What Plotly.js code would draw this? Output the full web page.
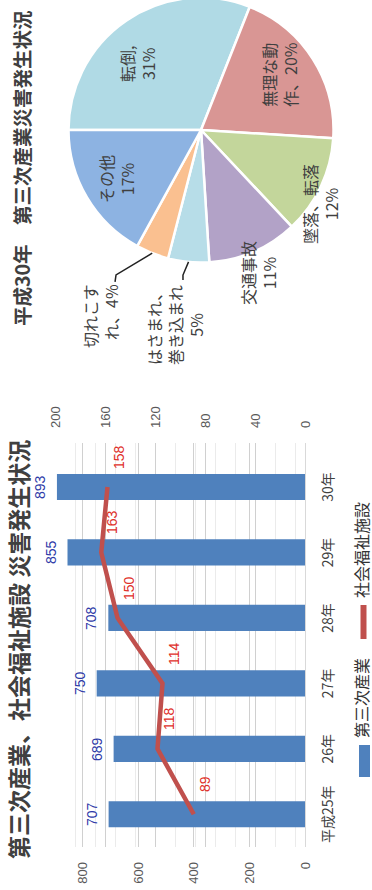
<!DOCTYPE html>
<html>
<head>
<meta charset="utf-8">
<script src="https://cdn.plot.ly/plotly-3.0.1.min.js"></script>
<style>
  html, body { margin: 0; padding: 0; background: #ffffff; overflow: hidden; width: 372px; height: 890px; }
  #chart { position: absolute; left: 0; top: 0; width: 900px; height: 372px;
           transform-origin: 0 0; transform: rotate(-90deg) translate(-890px, 0); }
</style>
</head>
<body>
<div id="chart"></div>
<script>
// ---- data ----
const categories = ['平成25年', '26年', '27年', '28年', '29年', '30年'];
const tertiaryIndustry = [707, 689, 750, 708, 855, 893];
const socialWelfare = [89, 118, 114, 150, 163, 158];

const pieNames = ['転倒', '無理な動作', '墜落、転落', '交通事故', 'はさまれ、巻き込まれ', '切れ、こすれ', 'その他'];
const piePercent = [31, 20, 12, 11, 5, 4, 17];
const pieDisplay = ['転倒,<br>', '無理な動<br>作、', '墜落、転落<br>', '交通事故<br>', 'はさまれ、<br>巻き込まれ<br>', '切れこす<br>れ、', 'その他<br>'];

// ---- style ----
const W = 900, H = 372;
const X = u => u / W;
const Y = v => 1 - v / H;
const JP = '"Noto Sans CJK JP", "Noto Sans", sans-serif';
const NUM = '"Liberation Sans", Arial, "Noto Sans CJK JP", sans-serif';
const pieColors = ['#b0dae5', '#d99694', '#c3d69b', '#b2a2c7', '#b7dde8', '#fac090', '#8db3e2'];
// label placement: radius factor, angle offset from slice middle (deg), alignment
const pieLabelPlace = [
  {f: 0.69, d: -9.5, xa: 'center', al: 'center'},
  {f: 0.73, d: -2.9, xa: 'center', al: 'center'},
  {f: 1.06, d: 6.8, xa: 'center', al: 'center'},
  {f: 1.16, d: 1.6, xa: 'center', al: 'center'},
  {f: 1.485, d: 2.2, xa: 'center', al: 'center', leader: [[50, 8], [45, 8]]},
  {f: 1.377, d: 12, xa: 'right', al: 'right', leader: [[7, 16], [0, 15]]},
  {f: 0.74, d: 0.6, xa: 'center', al: 'center'}
];
const pieCx = 760, pieCy = 201, pieR = 132.5;

const traces = [
  {
    type: 'bar', x: categories, y: tertiaryIndustry, name: '第三次産業',
    marker: {color: '#4f81bd'}, width: 0.4, hoverinfo: 'none'
  },
  {
    type: 'scatter', mode: 'lines', x: categories, y: socialWelfare, yaxis: 'y2', name: '社会福祉施設',
    line: {color: '#c0504d', width: 4.5}, hoverinfo: 'none'
  },
  {
    type: 'pie', values: piePercent, labels: pieNames, sort: false, direction: 'clockwise', rotation: 0,
    marker: {colors: pieColors, line: {color: '#ffffff', width: 2.5}},
    textinfo: 'none', hoverinfo: 'none', showlegend: false,
    domain: {x: [X(pieCx - pieR), X(pieCx + pieR)], y: [Y(pieCy + pieR), Y(pieCy - pieR)]}
  }
];

const annotations = [];
const shapes = [];

// bar value labels
categories.forEach((c, i) => {
  annotations.push({
    x: c, y: tertiaryIndustry[i], xref: 'x', yref: 'y', text: String(tertiaryIndustry[i]),
    showarrow: false, xanchor: 'center', yanchor: 'bottom', yshift: 7,
    font: {family: NUM, size: 14, color: '#2e3aa8'}
  });
  annotations.push({
    x: c, y: socialWelfare[i], xref: 'x', yref: 'y2', text: String(socialWelfare[i]),
    showarrow: false, xanchor: 'center', yanchor: 'middle', xshift: 30, yshift: -11,
    font: {family: NUM, size: 14, color: '#e0302a'}
  });
});

// titles
annotations.push({
  x: X(240), y: Y(18), xref: 'paper', yref: 'paper', showarrow: false, xanchor: 'center', yanchor: 'middle',
  text: '<b>第三次産業、社会福祉施設 災害発生状況</b>',
  font: {family: JP, size: 23, color: '#404040'}
});
annotations.push({
  x: X(722), y: Y(22), xref: 'paper', yref: 'paper', showarrow: false, xanchor: 'center', yanchor: 'middle',
  text: '<b>平成30年　第三次産業災害発生状況</b>',
  font: {family: JP, size: 19.5, color: '#404040'}
});

// custom legend
shapes.push({type: 'rect', xref: 'paper', yref: 'paper', x0: X(113), x1: X(145), y0: Y(370), y1: Y(359),
  fillcolor: '#4f81bd', line: {width: 0}});
shapes.push({type: 'line', xref: 'paper', yref: 'paper', x0: X(251), x1: X(285), y0: Y(363.5), y1: Y(363.5),
  line: {color: '#c0504d', width: 6}});
annotations.push({x: X(150), y: Y(361), xref: 'paper', yref: 'paper', xanchor: 'left', yanchor: 'middle', showarrow: false,
  text: '第三次産業', font: {family: JP, size: 16, color: '#333333'}});
annotations.push({x: X(290), y: Y(361), xref: 'paper', yref: 'paper', xanchor: 'left', yanchor: 'middle', showarrow: false,
  text: '社会福祉施設', font: {family: JP, size: 16, color: '#333333'}});

// pie labels
const total = piePercent.reduce((a, b) => a + b, 0);
let cum = 0;
piePercent.forEach((v, i) => {
  const mid = (cum + v / 2) / total * 360;
  cum += v;
  const p = pieLabelPlace[i];
  const a = (mid + p.d) * Math.PI / 180;
  const lu = pieCx + pieR * p.f * Math.sin(a);
  const lv = pieCy - pieR * p.f * Math.cos(a);
  annotations.push({
    x: X(lu), y: Y(lv), xref: 'paper', yref: 'paper', showarrow: false,
    xanchor: p.xa, yanchor: 'middle', align: p.al, text: pieDisplay[i] + v + '%',
    font: {family: JP, size: 16, color: '#404040'}
  });
  if (p.leader) {
    const m = mid * Math.PI / 180;
    const su = pieCx + pieR * Math.sin(m), sv = pieCy - pieR * Math.cos(m);
    const pts = [[su, sv]].concat(p.leader.map(o => [lu + o[0], lv + o[1]]));
    const path = pts.map((q, k) => (k ? 'L' : 'M') + X(q[0]) + ',' + Y(q[1])).join(' ');
    shapes.push({type: 'path', xref: 'paper', yref: 'paper', path: path,
      line: {color: '#222222', width: 1.5}});
  }
});

const axisFont = {family: NUM, size: 13, color: '#595959'};
const layout = {
  width: W, height: H,
  margin: {l: 0, r: 0, t: 0, b: 0},
  paper_bgcolor: '#ffffff', plot_bgcolor: 'rgba(0,0,0,0)',
  showlegend: false,
  xaxis: {
    domain: [X(43), X(447)], type: 'category', ticks: '', showgrid: false,
    showline: true, linecolor: '#d9d9d9', linewidth: 1, ticklabelstandoff: 10,
    tickfont: {family: JP, size: 14, color: '#404040'}, fixedrange: true
  },
  yaxis: {
    domain: [Y(305), Y(55)], range: [0, 900], tick0: 0, dtick: 200, ticks: '',
    showgrid: true, gridcolor: '#d0d0d0', gridwidth: 1, zeroline: false,
    tickfont: axisFont, ticklabelstandoff: 14, fixedrange: true
  },
  yaxis2: {
    overlaying: 'y', side: 'right', anchor: 'x', range: [0, 200], tick0: 0, dtick: 40, ticks: '',
    showgrid: true, gridcolor: '#d0d0d0', gridwidth: 1, zeroline: false,
    minor: {tick0: 8, dtick: 16, showgrid: true, gridcolor: '#ebebeb', gridwidth: 1, ticks: ''},
    tickfont: axisFont, ticklabelstandoff: 14, fixedrange: true
  },
  annotations: annotations,
  shapes: shapes
};

Plotly.newPlot('chart', traces, layout, {staticPlot: true, displayModeBar: false});
</script>
</body>
</html>
